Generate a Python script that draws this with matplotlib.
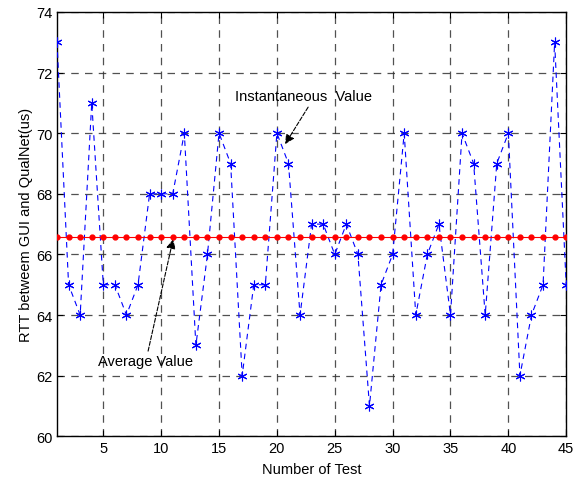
import matplotlib
matplotlib.use("Agg")
import matplotlib.pyplot as plt
import numpy as np

tests = list(range(1, 46))
rtt = [73, 65, 64, 71, 65, 65, 64, 65, 68, 68,
       68, 70, 63, 66, 70, 69, 62, 65, 65, 70,
       69, 64, 67, 67, 66, 67, 66, 61, 65, 66,
       70, 64, 66, 67, 64, 70, 69, 64, 69, 70,
       62, 64, 65, 73, 65]
avg = float(np.mean(rtt))
xticks = [5, 10, 15, 20, 25, 30, 35, 40, 45]
yticks = [60, 62, 64, 66, 68, 70, 72, 74]

plt.rcParams['font.family'] = ['Liberation Sans', 'DejaVu Sans']
fig = plt.figure(figsize=(5.76, 4.81), dpi=100)
ax = fig.add_axes([0.099, 0.091, 0.884, 0.882])

ax.plot(tests, rtt, color='blue', linestyle=(0, (5, 4)), linewidth=0.8,
        marker=(6, 2, 0), markersize=7, markeredgewidth=0.8, zorder=3)
ax.plot(tests, [avg] * len(tests), color='red', linestyle='-', linewidth=0.8,
        marker='o', markersize=3.5, zorder=4)

ax.set_xlim(1, 45)
ax.set_ylim(60, 74)
ax.set_xticks(xticks)
ax.set_yticks(yticks)
ax.grid(True, color='#333333', linestyle=(0, (6, 5)), linewidth=0.9, alpha=0.85)
ax.tick_params(direction='in', length=4, labelsize=10.5, top=True, right=True)
for s in ax.spines.values():
    s.set_linewidth(1.0)

ax.set_xlabel('Number of Test', fontsize=10.5, labelpad=5)
ax.set_ylabel('RTT betweem GUI and QualNet(us)', fontsize=10.5, labelpad=2)

ax.text(4.54, 62.48, 'Average Value', fontsize=10.5, va='center', ha='left')
ax.annotate('', xy=(11.03, 66.5), xytext=(8.87, 62.81),
            arrowprops=dict(arrowstyle='-|>', color='black', linestyle='--',
                            linewidth=0.8, mutation_scale=14, shrinkA=0, shrinkB=0))
ax.text(16.39, 71.23, 'Instantaneous  Value', fontsize=10.5, va='center', ha='left')
ax.annotate('', xy=(20.71, 69.64), xytext=(22.7, 70.86),
            arrowprops=dict(arrowstyle='-|>', color='black', linestyle='--',
                            linewidth=0.8, mutation_scale=14, shrinkA=0, shrinkB=0))

fig.savefig('out.png', dpi=100)
